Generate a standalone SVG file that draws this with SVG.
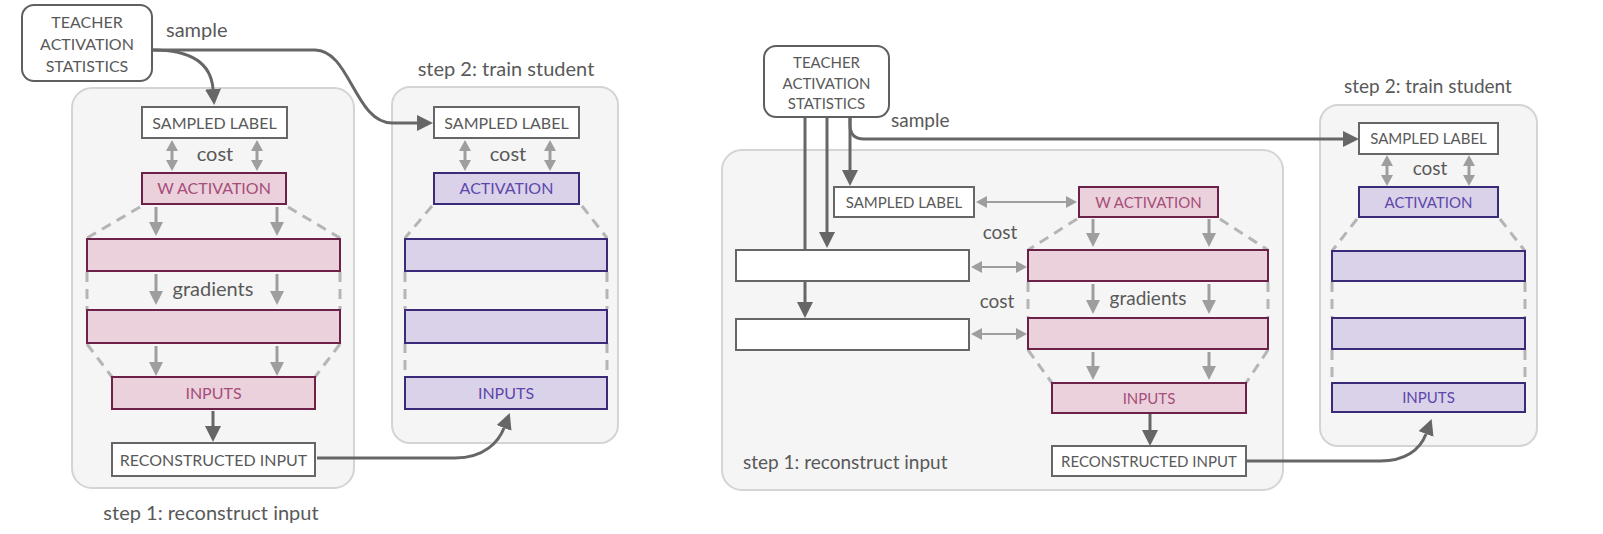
<svg xmlns="http://www.w3.org/2000/svg" width="1603" height="534" viewBox="0 0 1603 534">
<defs>
<style>
.cont{fill:#f5f5f5;stroke:#d4d4d4;stroke-width:2}
.teach{fill:#fff;stroke:#5f5f5f;stroke-width:2}
.wbox{fill:#fff;stroke:#666;stroke-width:2}
.pbox{fill:#ead1dc;stroke:#6e2148;stroke-width:2}
.vbox{fill:#d9d2e9;stroke:#3b2a78;stroke-width:2}
.t{font-family:Lato,"Open Sans",sans-serif;fill:#595959;text-anchor:middle}
.lb{font-size:16px}
.lbr{font-size:15px}
.pt{fill:#a64d79}
.vt{fill:#5e47ab}
.big{font-size:20px}
.bigr{font-size:19px}
.st{text-anchor:start}
.dk{fill:none;stroke:#666;stroke-width:3;marker-end:url(#ad)}
.gy{fill:none;stroke:#9e9e9e;stroke-width:3;marker-end:url(#ag)}
.db{fill:none;stroke:#9e9e9e;stroke-width:3;marker-start:url(#as);marker-end:url(#as)}
.dbh{fill:none;stroke:#9e9e9e;stroke-width:2;marker-start:url(#as);marker-end:url(#as)}
.ds{fill:none;stroke:#b5b5b5;stroke-width:3;stroke-dasharray:10 7}
</style>
<marker id="ad" markerUnits="userSpaceOnUse" markerWidth="18" markerHeight="16" refX="0" refY="8" orient="auto"><path d="M0,0 L16,8 L0,16 z" fill="#666"/></marker>
<marker id="ag" markerUnits="userSpaceOnUse" markerWidth="16" markerHeight="14" refX="0" refY="7" orient="auto"><path d="M0,0 L14,7 L0,14 z" fill="#9e9e9e"/></marker>
<marker id="as" markerUnits="userSpaceOnUse" markerWidth="12" markerHeight="12" refX="0" refY="6" orient="auto-start-reverse"><path d="M0,0 L11,6 L0,12 z" fill="#9e9e9e"/></marker>
</defs>
<rect width="1603" height="534" fill="#fff"/>

<g id="left-step1-container"><rect class="cont" x="72" y="88" width="282" height="400" rx="20"/></g>
<g id="left-step2-container"><rect class="cont" x="392" y="87" width="226" height="356" rx="18"/></g>
<g id="right-step1-container"><rect class="cont" x="722" y="150" width="561" height="340" rx="20"/></g>
<g id="right-step2-container"><rect class="cont" x="1320" y="105" width="217" height="341" rx="18"/></g>

<g id="connectors">
<path class="ds" d="M140,207 L87,238 M288,207 L340,238 M87,272 V310 M340,272 V310 M87,344 L112,377 M340,344 L315,377"/>
<path class="ds" d="M432,206 L405,238 M582,206 L607,238 M405,272 V309 M607,272 V309 M405,343 V376 M607,343 V376"/>
<path class="ds" d="M1077,219 L1028,250 M1220,219 L1268,250 M1028,282 V317 M1268,282 V317 M1028,350 L1052,383 M1268,350 L1246,383"/>
<path class="ds" d="M1357,219 L1332,251 M1500,219 L1525,251 M1332,282 V317 M1525,282 V317 M1332,350 V382 M1525,350 V382"/>
<path class="dk" d="M153,50 Q210,50 213,89"/>
<path class="dk" d="M153,50 H315 C350,50 355,123 392,123 H417"/>
<path class="dk" d="M213,411 V426"/>
<path class="dk" d="M317,458 H455 C485,458 499,441 504,428"/>
<path class="db" d="M172,151 V160"/>
<path class="db" d="M257,151 V160"/>
<path class="db" d="M465,151 V160"/>
<path class="db" d="M550,151 V160"/>
<path class="gy" d="M156,207 V222"/>
<path class="gy" d="M277,207 V222"/>
<path class="gy" d="M156,274 V291"/>
<path class="gy" d="M277,274 V291"/>
<path class="gy" d="M156,346 V362"/>
<path class="gy" d="M277,346 V362"/>
<path class="dk" d="M805,117 V302"/>
<path class="dk" d="M827,117 V232"/>
<path class="dk" d="M850,117 V170"/>
<path class="dk" d="M850,117 V125 Q850,139 864,139 H1343"/>
<path class="dk" d="M1150,414 V430"/>
<path class="dk" d="M1246,461 H1380 C1405,461 1420,450 1426,434"/>
<path class="dbh" d="M987,202 H1066"/>
<path class="dbh" d="M982,267 H1016"/>
<path class="dbh" d="M982,334 H1016"/>
<path class="db" d="M1387,166 V175"/>
<path class="db" d="M1469,166 V175"/>
<path class="gy" d="M1093,219 V233"/>
<path class="gy" d="M1209,219 V233"/>
<path class="gy" d="M1093,284 V300"/>
<path class="gy" d="M1209,284 V300"/>
<path class="gy" d="M1093,352 V366"/>
<path class="gy" d="M1209,352 V366"/>
</g>

<g id="left-teacher">
<rect class="teach" x="22" y="5" width="130" height="76" rx="12"/>
<text class="t lb" x="87" y="28">TEACHER</text>
<text class="t lb" x="87" y="50">ACTIVATION</text>
<text class="t lb" x="87" y="72">STATISTICS</text>
</g>
<g id="left-sample-label"><text class="t big st" x="166" y="37">sample</text></g>
<g id="left-s1-sampled-label"><rect class="wbox" x="142" y="107" width="145" height="31"/><text class="t lb" x="214.5" y="128.5">SAMPLED LABEL</text></g>
<g id="left-s1-cost"><text class="t big" x="215" y="161">cost</text></g>
<g id="left-s1-wact"><rect class="pbox" x="142" y="173" width="144" height="31"/><text class="t lb pt" x="214" y="194">W ACTIVATION</text></g>
<g id="left-s1-layer1"><rect class="pbox" x="87" y="239" width="253" height="32"/></g>
<g id="left-s1-gradients"><text class="t big" x="213" y="296">gradients</text></g>
<g id="left-s1-layer2"><rect class="pbox" x="87" y="310" width="253" height="33"/></g>
<g id="left-s1-inputs"><rect class="pbox" x="112" y="377" width="203" height="32"/><text class="t lb pt" x="213.5" y="399">INPUTS</text></g>
<g id="left-s1-recon"><rect class="wbox" x="112" y="443" width="203" height="33"/><text class="t lb" x="213.5" y="465.5">RECONSTRUCTED INPUT</text></g>
<g id="left-s1-title"><text class="t big" x="211" y="520">step 1: reconstruct input</text></g>

<g id="left-s2-title"><text class="t big" x="506" y="76">step 2: train student</text></g>
<g id="left-s2-sampled-label"><rect class="wbox" x="434" y="107" width="145" height="31"/><text class="t lb" x="506.5" y="128.5">SAMPLED LABEL</text></g>
<g id="left-s2-cost"><text class="t big" x="508" y="161">cost</text></g>
<g id="left-s2-act"><rect class="vbox" x="434" y="173" width="145" height="31"/><text class="t lb vt" x="506.5" y="194">ACTIVATION</text></g>
<g id="left-s2-layer1"><rect class="vbox" x="405" y="239" width="202" height="32"/></g>
<g id="left-s2-layer2"><rect class="vbox" x="405" y="310" width="202" height="33"/></g>
<g id="left-s2-inputs"><rect class="vbox" x="405" y="377" width="202" height="32"/><text class="t lb vt" x="506" y="399">INPUTS</text></g>

<g id="right-teacher">
<rect class="teach" x="764" y="46" width="125" height="71" rx="12"/>
<text class="t lbr" x="826.5" y="68">TEACHER</text>
<text class="t lbr" x="826.5" y="89">ACTIVATION</text>
<text class="t lbr" x="826.5" y="109">STATISTICS</text>
</g>
<g id="right-sample-label"><text class="t bigr st" x="891" y="127">sample</text></g>
<g id="right-s1-sampled-label"><rect class="wbox" x="834" y="187" width="140" height="30"/><text class="t lbr" x="904" y="207.5">SAMPLED LABEL</text></g>
<g id="right-s1-cost1"><text class="t bigr" x="1000" y="239">cost</text></g>
<g id="right-s1-cost2"><text class="t bigr" x="997" y="308">cost</text></g>
<g id="right-s1-target1"><rect class="wbox" x="736" y="250" width="233" height="31"/></g>
<g id="right-s1-target2"><rect class="wbox" x="736" y="319" width="233" height="31"/></g>
<g id="right-s1-wact"><rect class="pbox" x="1079" y="187" width="139" height="30"/><text class="t lbr pt" x="1148.5" y="207.5">W ACTIVATION</text></g>
<g id="right-s1-layer1"><rect class="pbox" x="1028" y="250" width="240" height="31"/></g>
<g id="right-s1-gradients"><text class="t bigr" x="1148" y="305">gradients</text></g>
<g id="right-s1-layer2"><rect class="pbox" x="1028" y="318" width="240" height="31"/></g>
<g id="right-s1-inputs"><rect class="pbox" x="1052" y="383" width="194" height="30"/><text class="t lbr pt" x="1149" y="403.5">INPUTS</text></g>
<g id="right-s1-recon"><rect class="wbox" x="1052" y="446" width="194" height="30"/><text class="t lbr" x="1149" y="466.5">RECONSTRUCTED INPUT</text></g>
<g id="right-s1-title"><text class="t bigr st" x="743" y="469">step 1: reconstruct input</text></g>

<g id="right-s2-title"><text class="t bigr" x="1428" y="93">step 2: train student</text></g>
<g id="right-s2-sampled-label"><rect class="wbox" x="1359" y="123" width="139" height="31"/><text class="t lbr" x="1428.5" y="144">SAMPLED LABEL</text></g>
<g id="right-s2-cost"><text class="t bigr" x="1430" y="175">cost</text></g>
<g id="right-s2-act"><rect class="vbox" x="1359" y="187" width="139" height="30"/><text class="t lbr vt" x="1428.5" y="207.5">ACTIVATION</text></g>
<g id="right-s2-layer1"><rect class="vbox" x="1332" y="251" width="193" height="30"/></g>
<g id="right-s2-layer2"><rect class="vbox" x="1332" y="318" width="193" height="31"/></g>
<g id="right-s2-inputs"><rect class="vbox" x="1332" y="383" width="193" height="29"/><text class="t lbr vt" x="1428.5" y="403">INPUTS</text></g>
</svg>
